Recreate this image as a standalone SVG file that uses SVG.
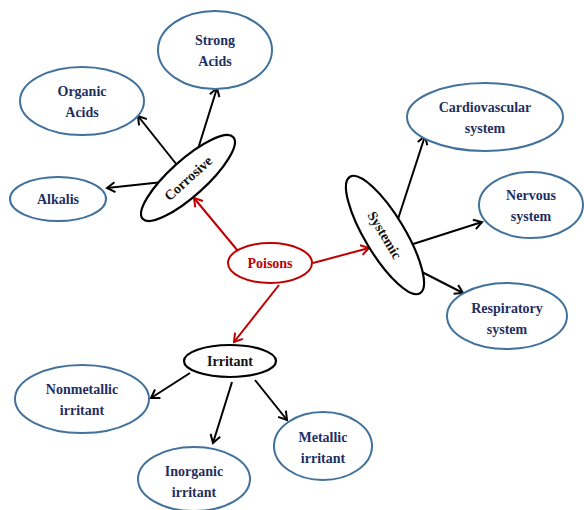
<svg xmlns="http://www.w3.org/2000/svg" width="584" height="510" viewBox="0 0 584 510">
<defs>
<marker id="ab" markerWidth="12" markerHeight="12" refX="9" refY="6" orient="auto" markerUnits="userSpaceOnUse">
<path d="M1,1 L9,6 L1,11" fill="none" stroke="#000" stroke-width="2"/>
</marker>
<marker id="ar" markerWidth="12" markerHeight="12" refX="9" refY="6" orient="auto" markerUnits="userSpaceOnUse">
<path d="M1,1 L9,6 L1,11" fill="none" stroke="#c00000" stroke-width="2"/>
</marker>
<style>
.leaf{fill:#fff;stroke:#41719c;stroke-width:2}
.mid{fill:#fff;stroke:#000;stroke-width:2.2}
.root{fill:#fff;stroke:#c00000;stroke-width:2}
.lt{font-family:"Liberation Serif",serif;font-weight:bold;font-size:14px;fill:#1f2f5f;text-anchor:middle}
.mt{font-family:"Liberation Serif",serif;font-weight:bold;font-size:14px;fill:#111;text-anchor:middle}
.rt{font-family:"Liberation Serif",serif;font-weight:bold;font-size:14px;fill:#c00000;text-anchor:middle}
.cb{stroke:#000;stroke-width:2;fill:none;marker-end:url(#ab)}
.cr{stroke:#c00000;stroke-width:2;fill:none;marker-end:url(#ar)}
</style>
</defs>
<rect width="584" height="510" fill="#fff"/>
<g id="connectors">
<line class="cr" x1="238" y1="251" x2="194" y2="198"/>
<line class="cr" x1="313" y1="263" x2="369" y2="248"/>
<line class="cr" x1="279" y1="285" x2="234" y2="342"/>
<line class="cb" x1="163" y1="182" x2="107" y2="188"/>
<line class="cb" x1="177" y1="165" x2="138" y2="116"/>
<line class="cb" x1="198" y1="149" x2="217" y2="88"/>
<line class="cb" x1="398" y1="219" x2="425" y2="136"/>
<line class="cb" x1="410" y1="245" x2="482" y2="222"/>
<line class="cb" x1="418" y1="270" x2="463" y2="293"/>
<line class="cb" x1="190" y1="373" x2="151" y2="398"/>
<line class="cb" x1="232" y1="382" x2="213" y2="443"/>
<line class="cb" x1="255" y1="380" x2="287" y2="420"/>
</g>
<g id="strong-acids"><ellipse class="leaf" cx="215" cy="50" rx="57" ry="39"/><text class="lt" x="215" y="45">Strong</text><text class="lt" x="215" y="66">Acids</text></g>
<g id="organic-acids"><ellipse class="leaf" cx="82" cy="101" rx="62" ry="34"/><text class="lt" x="82" y="96">Organic</text><text class="lt" x="82" y="117">Acids</text></g>
<g id="alkalis"><ellipse class="leaf" cx="58" cy="199" rx="48" ry="22"/><text class="lt" x="58" y="204">Alkalis</text></g>
<g id="corrosive"><ellipse class="mid" cx="188" cy="178" rx="61" ry="18" transform="rotate(-42 188 178)"/><text class="mt" x="188" y="183" transform="rotate(-42 188 178)">Corrosive</text></g>
<g id="poisons"><ellipse class="root" cx="270" cy="263" rx="42" ry="20"/><text class="rt" x="270" y="268">Poisons</text></g>
<g id="systemic"><ellipse class="mid" cx="385" cy="235" rx="68" ry="20" transform="rotate(59 385 235)"/><text class="mt" x="385" y="240" transform="rotate(59 385 235)">Systemic</text></g>
<g id="cardiovascular"><ellipse class="leaf" cx="485" cy="117" rx="78" ry="34"/><text class="lt" x="485" y="112">Cardiovascular</text><text class="lt" x="485" y="133">system</text></g>
<g id="nervous"><ellipse class="leaf" cx="531" cy="205" rx="52" ry="33"/><text class="lt" x="531" y="200">Nervous</text><text class="lt" x="531" y="221">system</text></g>
<g id="respiratory"><ellipse class="leaf" cx="507" cy="316" rx="60" ry="33"/><text class="lt" x="507" y="313">Respiratory</text><text class="lt" x="507" y="334">system</text></g>
<g id="irritant"><ellipse class="mid" cx="230" cy="361" rx="46" ry="16"/><text class="mt" x="230" y="366">Irritant</text></g>
<g id="nonmetallic"><ellipse class="leaf" cx="82" cy="399" rx="67" ry="34"/><text class="lt" x="82" y="394">Nonmetallic</text><text class="lt" x="82" y="415">irritant</text></g>
<g id="inorganic"><ellipse class="leaf" cx="194" cy="479" rx="56" ry="32"/><text class="lt" x="194" y="476">Inorganic</text><text class="lt" x="194" y="497">irritant</text></g>
<g id="metallic"><ellipse class="leaf" cx="323" cy="446" rx="49" ry="34"/><text class="lt" x="323" y="442">Metallic</text><text class="lt" x="323" y="463">irritant</text></g>
</svg>
